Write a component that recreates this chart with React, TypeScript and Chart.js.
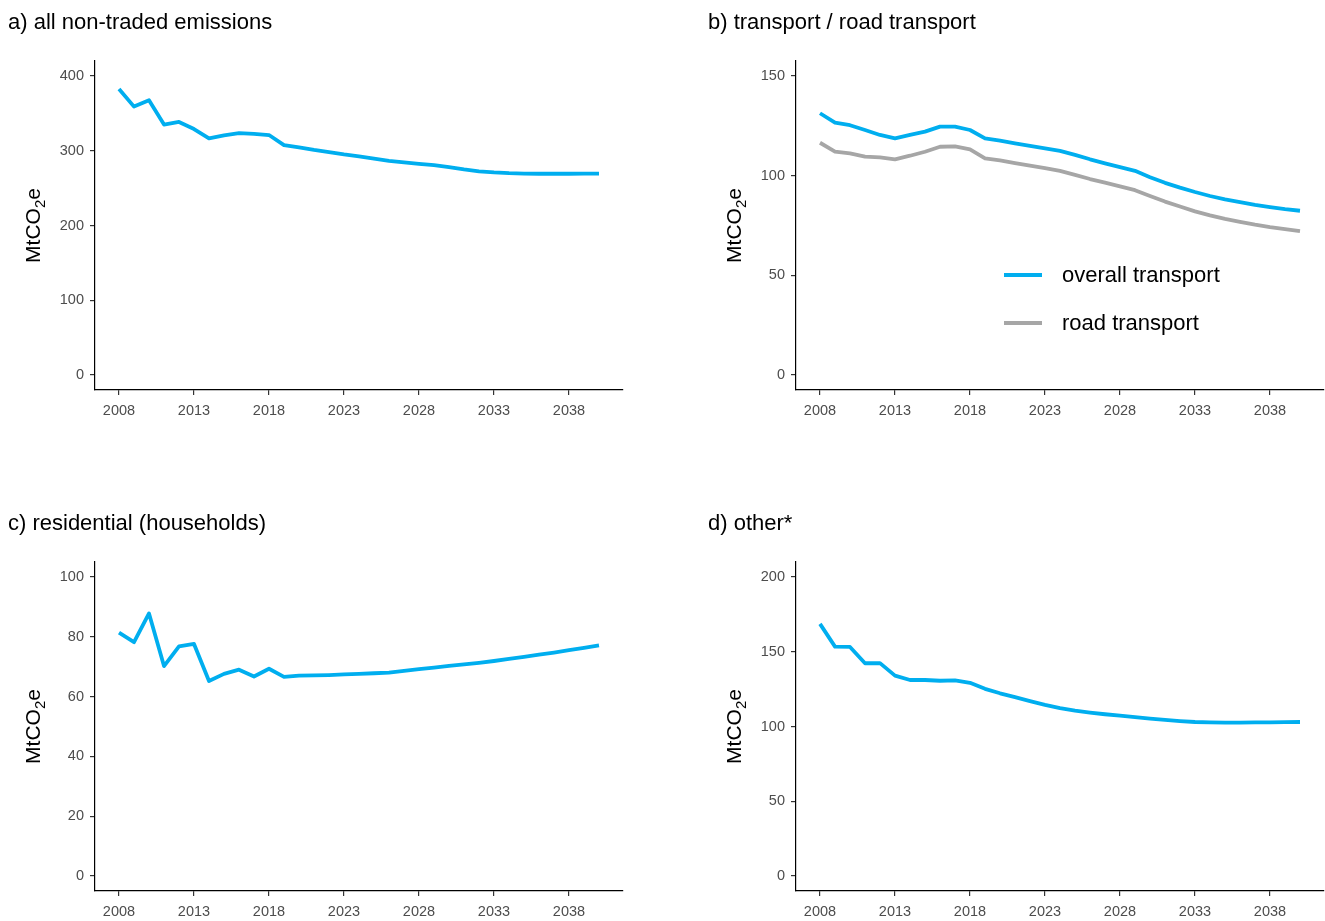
import React, { useEffect, useRef } from "react";
import { Chart, registerables } from "chart.js";

Chart.register(...registerables);

// ---------- data ----------
const years = [
  2008, 2009, 2010, 2011, 2012, 2013, 2014, 2015, 2016, 2017, 2018,
  2019, 2020, 2021, 2022, 2023, 2024, 2025, 2026, 2027, 2028, 2029,
  2030, 2031, 2032, 2033, 2034, 2035, 2036, 2037, 2038, 2039, 2040,
];
const xTickYears = [2008, 2013, 2018, 2023, 2028, 2033, 2038];

const nonTraded = [
  382.5, 359, 367.5, 335, 338.5, 329, 316.5, 320.5, 323.5, 322.5, 321,
  307.5, 304.5, 301, 298, 295, 292.5, 289.5, 286.5, 284.5, 282.5, 280.8,
  278, 275, 272.5, 271, 270, 269.5, 269.2, 269.2, 269.2, 269.3, 269.5,
];
const overallTransport = [
  131.3, 126.6, 125.3, 122.9, 120.4, 118.7, 120.4, 122.1, 124.6, 124.6, 122.9,
  118.7, 117.6, 116.2, 114.9, 113.7, 112.4, 110.4, 108.2, 106.2, 104.3, 102.4,
  99.2, 96.4, 94.0, 91.8, 89.8, 88.1, 86.7, 85.3, 84.2, 83.2, 82.4,
];
const roadTransport = [
  116.5, 112, 111.2, 109.5, 109.2, 108.2, 110, 112, 114.5, 114.7, 113.2,
  108.7, 107.7, 106.3, 105, 103.8, 102.4, 100.4, 98.3, 96.5, 94.6, 92.7,
  89.8, 87, 84.5, 82.1, 80.1, 78.3, 76.8, 75.4, 74.2, 73.2, 72.2,
];
const residential = [
  81.4, 78.2, 87.8, 70.2, 76.8, 77.6, 65.2, 67.6, 69, 66.7, 69.3,
  66.6, 67, 67.1, 67.2, 67.4, 67.6, 67.8, 68.0, 68.6, 69.2, 69.7,
  70.3, 70.8, 71.3, 71.9, 72.6, 73.3, 74.0, 74.7, 75.5, 76.3, 77.1,
];
const other = [
  168.6, 153.4, 153.2, 142.3, 142.4, 134, 131.1, 131.1, 130.6, 130.9, 129.2,
  125.2, 122.2, 119.6, 117, 114.5, 112.3, 110.6, 109.3, 108.2, 107.3, 106.3,
  105.3, 104.4, 103.6, 103.0, 102.7, 102.6, 102.6, 102.7, 102.8, 102.9, 103.0,
];

const ticksA = [0, 100, 200, 300, 400];
const ticksB = [0, 50, 100, 150];
const ticksC = [0, 20, 40, 60, 80, 100];
const ticksD = [0, 50, 100, 150, 200];

const titles = [
  "a) all non-traded emissions",
  "b) transport / road transport",
  "c) residential (households)",
  "d) other*",
];
const legendLabels = ["overall transport", "road transport"];

// ---------- styling ----------
const BLUE = "#00AEEF";
const GREY = "#A6A6A6";
const FONT = '"Liberation Sans", Arial, Helvetica, sans-serif';

type Series = { label: string; data: number[]; color: string };
type Panel = {
  title: string;
  series: Series[];
  yTicks: number[];
  left: number;
  top: number;
  width: number;
  height: number;
  area: { l: number; t: number; r: number; b: number }; // page coords
  titlePos: { x: number; y: number };
  yTitleX: number;
  legend?: { x1: number; x2: number; tx: number; ys: number[] };
};

const panels: Panel[] = [
  {
    title: titles[0],
    series: [{ label: "non-traded", data: nonTraded, color: BLUE }],
    yTicks: ticksA,
    left: 0, top: 0, width: 662, height: 460,
    area: { l: 95, t: 61, r: 623, b: 390 },
    titlePos: { x: 8, y: 29 },
    yTitleX: 32,
  },
  {
    title: titles[1],
    series: [
      { label: legendLabels[0], data: overallTransport, color: BLUE },
      { label: legendLabels[1], data: roadTransport, color: GREY },
    ],
    yTicks: ticksB,
    left: 662, top: 0, width: 663, height: 460,
    area: { l: 796, t: 61, r: 1324, b: 390 },
    titlePos: { x: 708, y: 29 },
    yTitleX: 733,
    legend: { x1: 1004, x2: 1042, tx: 1062, ys: [275, 323] },
  },
  {
    title: titles[2],
    series: [{ label: "residential", data: residential, color: BLUE }],
    yTicks: ticksC,
    left: 0, top: 460, width: 662, height: 461,
    area: { l: 95, t: 562, r: 623, b: 891 },
    titlePos: { x: 8, y: 530 },
    yTitleX: 32,
  },
  {
    title: titles[3],
    series: [{ label: "other", data: other, color: BLUE }],
    yTicks: ticksD,
    left: 662, top: 460, width: 663, height: 461,
    area: { l: 796, t: 562, r: 1324, b: 891 },
    titlePos: { x: 708, y: 530 },
    yTitleX: 733,
  },
];

const decorPlugin = {
  id: "decor",
  afterDraw(chart: any, _args: any, opts: any) {
    const p: Panel = opts.panel;
    const ctx: CanvasRenderingContext2D = chart.ctx;
    ctx.save();
    // panel title
    ctx.fillStyle = "#000";
    ctx.font = `22px ${FONT}`;
    ctx.textAlign = "left";
    ctx.textBaseline = "alphabetic";
    ctx.fillText(p.title, p.titlePos.x - p.left, p.titlePos.y - p.top);

    // y-axis title with subscript
    const { top, bottom } = chart.chartArea;
    const cy = (top + bottom) / 2;
    ctx.translate(p.yTitleX - p.left, cy);
    ctx.rotate(-Math.PI / 2);
    const big = `21px ${FONT}`;
    const small = `15px ${FONT}`;
    ctx.font = big;
    const w1 = ctx.measureText("MtCO").width;
    const w3 = ctx.measureText("e").width;
    ctx.font = small;
    const w2 = ctx.measureText("2").width;
    let x = -(w1 + w2 + w3) / 2;
    const base = 7.5;
    ctx.font = big;
    ctx.fillText("MtCO", x, base);
    x += w1;
    ctx.font = small;
    ctx.fillText("2", x, base + 5);
    x += w2;
    ctx.font = big;
    ctx.fillText("e", x, base);
    ctx.restore();

    // legend
    if (p.legend) {
      const lg = p.legend;
      ctx.save();
      ctx.font = `22px ${FONT}`;
      ctx.textBaseline = "middle";
      ctx.textAlign = "left";
      p.series.forEach((s, i) => {
        const y = lg.ys[i] - p.top;
        ctx.strokeStyle = s.color;
        ctx.lineWidth = 3.8;
        ctx.lineCap = "butt";
        ctx.beginPath();
        ctx.moveTo(lg.x1 - p.left, y);
        ctx.lineTo(lg.x2 - p.left, y);
        ctx.stroke();
        ctx.fillStyle = "#000";
        ctx.fillText(s.label, lg.tx - p.left, y + 1);
      });
      ctx.restore();
    }
  },
};

function PanelChart({ p }: { p: Panel }) {
  const ref = useRef<HTMLCanvasElement | null>(null);
  useEffect(() => {
    if (!ref.current) return;
    const yMax = Math.max(...p.yTicks);
    const areaL = p.area.l - p.left;
    const areaT = p.area.t - p.top;
    const areaR = p.area.r - p.left;
    const areaB = p.area.b - p.top;
    const chart = new Chart(ref.current, {
      type: "line",
      data: {
        datasets: p.series.map((s) => ({
          label: s.label,
          data: years.map((yr, i) => ({ x: yr, y: s.data[i] })),
          borderColor: s.color,
          backgroundColor: s.color,
          borderWidth: 3.8,
          pointRadius: 0,
          tension: 0,
          borderJoinStyle: "round" as const,
          borderCapStyle: "butt" as const,
          fill: false,
        })),
      },
      options: {
        animation: false,
        responsive: false,
        devicePixelRatio: 1,
        layout: {
          padding: { left: 0, top: areaT, right: p.width - areaR, bottom: 0 },
        },
        plugins: {
          legend: { display: false },
          title: { display: false },
          tooltip: { enabled: false },
          decor: { panel: p },
        } as any,
        scales: {
          x: {
            type: "linear",
            min: 2006.4,
            max: 2041.6,
            afterBuildTicks: (s: any) => {
              s.ticks = xTickYears.map((v) => ({ value: v }));
            },
            afterFit: (s: any) => {
              s.height = p.height - areaB;
            },
            grid: {
              display: true,
              drawOnChartArea: false,
              drawTicks: true,
              tickLength: 5,
              color: "#333333",
              lineWidth: 1.2,
            },
            border: { display: true, color: "#000000", width: 1.2 },
            ticks: {
              color: "#4D4D4D",
              font: { size: 14.5, family: FONT },
              padding: 7,
              autoSkip: false,
              maxRotation: 0,
              callback: (v: any) => String(v),
            },
          },
          y: {
            type: "linear",
            min: -0.05 * yMax,
            max: 1.05 * yMax,
            afterBuildTicks: (s: any) => {
              s.ticks = p.yTicks.map((v) => ({ value: v }));
            },
            afterFit: (s: any) => {
              s.width = areaL;
            },
            grid: {
              display: true,
              drawOnChartArea: false,
              drawTicks: true,
              tickLength: 5,
              color: "#333333",
              lineWidth: 1.2,
            },
            border: { display: true, color: "#000000", width: 1.2 },
            ticks: {
              color: "#4D4D4D",
              font: { size: 14.5, family: FONT },
              padding: 6,
              autoSkip: false,
              callback: (v: any) => String(v),
            },
          },
        },
      },
      plugins: [decorPlugin],
    });
    return () => chart.destroy();
  }, [p]);
  return (
    <canvas
      ref={ref}
      width={p.width}
      height={p.height}
      style={{
        position: "absolute",
        left: p.left,
        top: p.top,
        width: p.width,
        height: p.height,
      }}
    />
  );
}

export default function App() {
  return (
    <div
      style={{
        position: "absolute",
        left: 0,
        top: 0,
        width: 1325,
        height: 921,
        background: "#ffffff",
        overflow: "hidden",
      }}
    >
      {panels.map((p, i) => (
        <PanelChart key={i} p={p} />
      ))}
    </div>
  );
}
